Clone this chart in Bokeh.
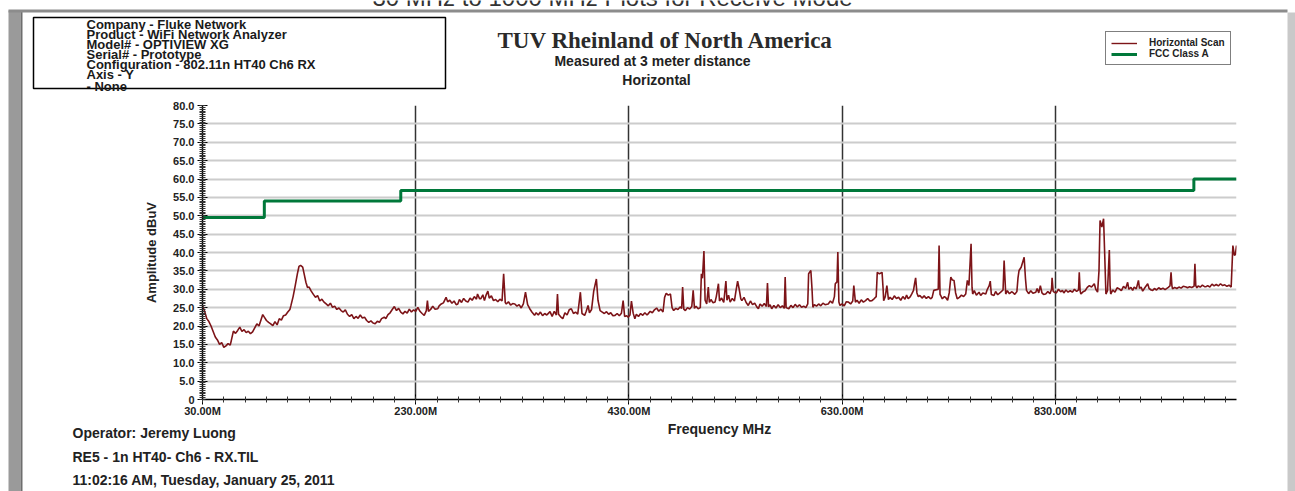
from bokeh.plotting import figure
from bokeh.models import (FixedTicker, PrintfTickFormatter, Legend, LegendItem,
                          Range1d, GridBox, Column)
from bokeh.core.properties import value
from bokeh.embed import file_html
from bokeh.resources import INLINE

# ---------------- data ----------------
scan_freq = [30, 32, 34, 36, 38, 40, 42, 44, 46, 48, 50, 52, 54, 56, 57, 59, 61, 63, 65, 67, 69, 71, 73, 75, 77, 79,
             81, 83, 85, 86.5, 88, 90, 92, 94, 96, 98, 100, 102, 104, 106, 108, 110, 112, 113, 115, 117, 119, 120.5,
             122, 124, 125.5, 127, 128.5, 130, 132, 134, 136, 138, 140, 142, 144, 146, 148, 150, 152, 154, 156, 158,
             160, 162, 164, 166, 168, 170, 172, 174, 176, 178, 180, 182, 184, 186, 188, 190, 192, 194, 196, 198,
             200.5, 202, 204, 206, 208, 210, 212, 214, 216, 218, 220, 222, 224, 226, 228, 230, 232, 234, 236, 238,
             240, 241, 242, 244, 246, 248, 250.7, 252, 254, 256, 258.5, 260, 262, 264, 266, 268, 269.5, 271, 273,
             275, 277, 279, 281, 283, 285, 287, 288, 290, 291, 293, 294.5, 296, 297.7, 299, 301, 303, 305, 307, 309,
             311, 312.5, 314, 315, 317, 319, 321, 323, 325, 327, 329, 331, 333, 335, 337, 339, 341.5, 343, 345, 347,
             349, 351, 353, 354, 356, 358, 360, 362, 363, 364, 366, 368, 370, 372, 374, 376, 378, 380, 382, 384.5,
             386, 388.5, 390, 391.7, 393, 395, 397, 399.5, 401, 403, 405, 407, 409, 411, 413, 415, 417, 419, 421,
             423, 424.6, 426, 428, 429.3, 431, 432.4, 434, 435.6, 437, 439, 441, 443, 445, 447, 448, 450, 452, 454,
             456, 458, 460, 462, 463.5, 465, 467, 469, 470.5, 472, 474, 476, 478, 479.5, 480.4, 481.5, 483, 485,
             487, 489, 490.3, 491.5, 493, 495, 497, 498, 499, 500.4, 501.5, 503, 504.5, 505.5, 507, 509, 510.8, 512,
             514, 515, 517, 519, 521, 522, 523.5, 525, 527, 529, 530.5, 532, 533.5, 535, 536, 538, 540, 542, 544,
             546, 548, 550, 551.5, 553, 555, 557, 559, 560, 561, 562.5, 564, 566, 568, 570, 572, 574, 575.8, 576.6,
             577.5, 580, 582, 584, 586, 588, 590, 592, 594, 596, 597.8, 598.6, 600.7, 601.8, 602.6, 604, 606, 608,
             610, 612, 614, 617, 619, 621, 622.8, 623.6, 625.2, 626, 627, 628, 630, 632, 634, 636, 638, 640, 641,
             642.5, 644, 646, 648, 650, 652, 654, 656, 658, 660, 662, 663, 665, 667.5, 668.5, 669, 670.5, 672,
             673.5, 675, 677, 679, 681, 683, 685, 687, 689, 690.5, 692, 694, 695.5, 697, 698, 699, 700.2, 701.5,
             703, 705, 707, 709, 711, 713, 714.5, 716, 720.2, 721, 721.9, 722.5, 724, 726, 727, 729, 730.5, 732,
             733.5, 735, 736.5, 738, 740, 742, 744, 746, 747.5, 749, 751, 751.9, 752.5, 754, 756, 758.5, 760, 762,
             764.8, 766, 768, 769, 770, 772.5, 774, 776, 778.8, 781, 782, 783.5, 785, 787, 789, 790, 792, 794, 795,
             796, 798, 800.8, 802, 803, 805, 807, 809, 811.7, 813, 814.5, 816, 817.5, 819, 821, 823, 825, 826.5,
             827, 828, 829, 831, 833, 835, 836.7, 838, 840, 842, 844, 846, 848, 850, 851.8, 852.5, 853.3, 854, 856,
             858, 860, 862, 864, 866.6, 868, 869.7, 871, 872, 873.7, 875.3, 876.3, 877.5, 879, 880.7, 881.4, 882,
             884, 886, 888, 890, 892, 894, 896, 897.9, 899, 901, 902.6, 904, 906, 908, 909, 910.5, 912, 914, 916.7,
             918, 920, 921.4, 923, 925, 927, 929, 931, 933, 934, 936, 937.6, 938.6, 939.4, 940, 942, 944, 946, 948,
             950, 952.7, 954, 956, 958, 960.2, 961, 961.8, 962.8, 964, 966, 968, 970, 971.5, 973, 975, 977, 979,
             981, 983, 985, 987, 989, 991, 993, 995, 996.6, 998, 999, 1000]
scan_dbuv = [25.6, 24.0, 22.0, 21.2, 20.0, 18.5, 17.0, 16.2, 15.0, 15.5, 14.2, 14.6, 15.2, 14.8, 16.0, 18.6, 18.0, 18.8,
             19.7, 18.5, 19.0, 18.2, 18.6, 17.9, 18.4, 19.5, 20.6, 20.0, 21.8, 23.1, 22.4, 21.5, 21.0, 20.6, 20.1,
             21.2, 20.3, 22.0, 21.6, 22.8, 23.0, 23.8, 24.5, 25.6, 28.0, 31.0, 34.2, 36.2, 36.5, 36.0, 34.0, 31.9,
             30.5, 30.6, 29.5, 28.6, 27.8, 28.3, 26.8, 27.3, 26.5, 26.0, 25.5, 26.2, 25.1, 25.4, 24.5, 24.9, 24.2,
             23.8, 24.4, 23.2, 22.6, 23.1, 22.0, 22.6, 22.1, 23.0, 22.2, 22.4, 21.5, 21.0, 21.4, 20.8, 20.6, 21.3,
             21.0, 22.0, 22.4, 22.0, 23.1, 23.6, 24.5, 25.3, 24.2, 24.8, 23.8, 23.3, 24.0, 23.5, 24.6, 23.8, 24.4,
             24.0, 25.1, 24.0, 23.4, 22.9, 24.2, 26.9, 24.0, 24.5, 25.4, 24.6, 24.7, 25.5, 26.0, 26.3, 27.8, 26.6,
             27.0, 26.2, 26.8, 25.8, 26.0, 27.2, 26.4, 27.5, 26.8, 26.5, 27.6, 27.0, 28.0, 27.3, 28.7, 27.4, 27.4,
             28.5, 26.9, 28.4, 29.5, 27.6, 28.2, 26.9, 27.2, 26.6, 27.3, 26.8, 34.2, 26.4, 26.0, 26.6, 25.7, 26.1,
             26.0, 25.4, 25.8, 24.9, 26.0, 29.2, 25.8, 24.7, 23.8, 22.9, 23.6, 23.0, 23.8, 22.8, 23.4, 23.0, 23.3,
             23.9, 22.6, 24.0, 23.0, 28.7, 23.2, 22.5, 22.0, 23.6, 23.0, 24.4, 24.7, 23.4, 23.8, 23.2, 29.2, 23.4,
             22.9, 24.0, 25.6, 23.6, 24.5, 29.5, 32.8, 27.0, 24.2, 23.8, 23.4, 23.9, 23.2, 23.6, 22.8, 22.9, 23.4,
             22.8, 23.5, 26.9, 22.6, 22.8, 22.4, 23.0, 26.8, 23.5, 22.0, 23.2, 22.6, 23.4, 22.9, 23.6, 23.0, 23.3,
             24.0, 23.6, 24.4, 24.9, 24.0, 24.6, 23.8, 27.8, 28.9, 28.4, 28.7, 25.0, 24.2, 24.8, 24.5, 25.2, 24.8,
             30.6, 24.6, 24.2, 25.0, 24.6, 25.3, 29.7, 24.8, 25.4, 24.7, 25.0, 34.2, 33.0, 40.4, 27.0, 26.0, 30.6,
             26.4, 27.2, 26.3, 26.5, 28.0, 31.5, 26.8, 27.6, 26.4, 32.2, 27.0, 28.4, 26.5, 27.5, 26.8, 29.6, 32.2,
             30.0, 27.4, 26.9, 27.8, 26.4, 25.6, 26.8, 25.8, 26.2, 25.2, 24.7, 26.0, 25.4, 26.1, 25.3, 31.7, 25.2,
             25.8, 24.7, 25.6, 24.9, 25.8, 25.0, 25.5, 24.8, 33.3, 25.0, 24.7, 25.6, 25.0, 25.9, 25.2, 25.8, 25.1,
             25.4, 25.0, 26.0, 34.2, 35.1, 30.0, 25.1, 25.8, 25.4, 26.0, 25.5, 26.2, 25.8, 26.0, 26.8, 26.2, 28.0,
             31.5, 32.0, 40.1, 26.5, 25.6, 26.0, 25.5, 26.6, 26.5, 26.0, 26.8, 31.0, 26.5, 27.0, 26.2, 27.1, 26.5,
             26.9, 27.5, 26.8, 26.9, 27.4, 28.0, 34.6, 34.2, 34.6, 30.0, 26.9, 28.0, 31.0, 27.2, 27.8, 27.2, 28.2,
             27.5, 27.8, 27.0, 28.0, 27.3, 28.4, 27.4, 28.0, 28.8, 29.7, 31.5, 33.1, 29.0, 28.0, 28.3, 27.6, 28.2,
             27.5, 28.0, 27.4, 27.8, 29.7, 30.0, 41.9, 28.6, 28.3, 27.4, 28.0, 27.8, 27.0, 29.0, 33.3, 32.5, 32.4,
             29.0, 27.4, 27.8, 28.4, 28.0, 28.7, 32.4, 31.0, 42.4, 30.5, 28.7, 29.6, 28.4, 29.2, 28.3, 29.0, 28.7,
             29.8, 31.0, 32.2, 28.6, 28.3, 29.4, 28.5, 29.2, 29.8, 37.8, 28.7, 29.6, 28.8, 29.3, 29.2, 28.6, 29.4,
             33.0, 35.1, 36.0, 38.7, 33.0, 29.7, 28.8, 29.6, 28.9, 29.2, 30.2, 29.0, 31.0, 29.0, 28.6, 28.7, 29.4,
             28.8, 30.0, 33.1, 29.5, 29.2, 29.0, 30.0, 29.3, 29.7, 29.0, 29.8, 29.2, 29.6, 29.2, 30.0, 29.4, 29.8,
             34.6, 29.6, 28.7, 29.3, 29.6, 30.5, 31.0, 30.6, 31.5, 30.0, 29.2, 35.0, 48.7, 46.9, 49.2, 40.0, 28.7,
             29.6, 40.7, 31.0, 28.7, 29.8, 29.2, 30.4, 30.1, 29.6, 30.8, 30.2, 31.9, 30.0, 30.5, 29.7, 30.6, 30.1,
             32.4, 30.2, 30.6, 29.5, 30.4, 31.5, 30.2, 29.8, 29.7, 30.2, 29.8, 30.4, 30.0, 30.3, 29.9, 30.1, 30.5,
             30.9, 34.6, 31.0, 30.1, 30.5, 30.2, 30.6, 30.3, 30.8, 30.6, 30.4, 30.7, 30.5, 30.8, 36.9, 31.0, 30.4,
             30.9, 30.6, 31.1, 30.7, 30.7, 31.0, 30.6, 31.4, 30.9, 31.3, 30.9, 31.5, 31.0, 31.2, 30.8, 31.1, 30.6,
             41.9, 39.2, 39.5, 41.9]

limit_freq = [30, 88, 88, 216, 216, 960, 960, 1000]
limit_dbuv = [49.5, 49.5, 54.0, 54.0, 56.9, 56.9, 60.0, 60.0]

x_major = [30, 230, 430, 630, 830]
y_major = [0, 5, 10, 15, 20, 25, 30, 35, 40, 45, 50, 55, 60, 65, 70, 75, 80]

page_title = "30 MHz to 1000 MHz Plots for Receive Mode"
header_lines = ["Company - Fluke Network", "Product - WiFi Network Analyzer", "Model# - OPTIVIEW XG",
                "Serial# - Prototype", "Configuration - 802.11n HT40  Ch6 RX", "Axis - Y", " - None"]
titles = ["TUV Rheinland of North America", "Measured at 3 meter distance", "Horizontal"]
footer_lines = ["Operator: Jeremy Luong", "RE5 - 1n HT40- Ch6 - RX.TIL",
                "11:02:16 AM, Tuesday, January 25, 2011"]
series_names = ["Horizontal Scan", "FCC Class A"]

W, H = 1295, 491
FONT = "Liberation Sans"
RED = "#7d1418"
GREEN = "#00783a"

# ---------------- chart layer (bottom) ----------------
p = figure(width=W, height=H, x_range=Range1d(30, 1000), y_range=Range1d(0, 80),
           output_backend="svg", toolbar_location=None,
           min_border_left=202, min_border_right=59, min_border_top=105, min_border_bottom=92)
p.outline_line_color = None
p.background_fill_color = "white"
p.border_fill_color = "white"

p.line(scan_freq, scan_dbuv, line_color=RED, line_width=1.6)
p.line(limit_freq, limit_dbuv, line_color=GREEN, line_width=3)

p.xaxis.ticker = FixedTicker(ticks=x_major, minor_ticks=list(range(30, 1001, 20)))
p.yaxis.ticker = FixedTicker(ticks=y_major, minor_ticks=[i * 0.5 for i in range(0, 161)])
p.xaxis.formatter = PrintfTickFormatter(format="%.2fM")
p.yaxis.formatter = PrintfTickFormatter(format="%.1f")
p.yaxis.major_label_overrides = {0: "0"}
for ax in (p.xaxis[0], p.yaxis[0]):
    ax.axis_line_color = "black"
    ax.axis_line_width = 1.5
    ax.major_tick_line_color = "black"
    ax.minor_tick_line_color = "#333333"
    ax.major_tick_in = 5
    ax.major_tick_out = 5
    ax.minor_tick_in = 3
    ax.minor_tick_out = 3
    ax.major_label_text_font = FONT
    ax.major_label_text_font_style = "bold"
    ax.major_label_text_font_size = "11px"
    ax.major_label_text_color = "#222222"
    ax.axis_label_text_font = FONT
    ax.axis_label_text_font_style = "bold"
    ax.axis_label_text_color = "#222222"
p.yaxis.major_label_standoff = 3
p.xaxis.major_label_standoff = 0
p.xaxis.axis_label = "Frequency MHz"
p.yaxis.axis_label = "Amplitude dBuV"
p.xaxis.axis_label_text_font_size = "14px"
p.yaxis.axis_label_text_font_size = "13px"
p.xaxis.axis_label_standoff = 1
p.yaxis.axis_label_standoff = 11

p.xgrid.ticker = FixedTicker(ticks=x_major[1:])
p.xgrid.grid_line_color = "#333333"
p.xgrid.grid_line_width = 1.5
p.ygrid.ticker = FixedTicker(ticks=y_major[1:])
p.ygrid.grid_line_color = "#cccccc"
p.ygrid.grid_line_width = 2

# ---------------- page layer (top, transparent): frame, texts, legend ----------------
d = figure(width=W, height=H, x_range=Range1d(0, W), y_range=Range1d(H, 0),
           x_axis_type=None, y_axis_type=None, output_backend="svg", toolbar_location=None,
           min_border=0, min_border_left=0, min_border_right=0, min_border_top=0, min_border_bottom=0)
d.outline_line_color = None
d.background_fill_color = None
d.border_fill_color = None

d.quad(left=[8, 20, 8, 1287], right=[20, 22, 1287, 1295], top=[10, 10, 9, 12], bottom=[491, 491, 12, 491],
       fill_color=["#9a9a9a", "#6e6e6e", "#8c8c8c", "#c9c9c9"], line_color=None)

# page title, cut by the top edge as in the page it comes from
d.text(x=[612], y=[-3], text=[page_title], text_font=value(FONT), text_font_size="24px",
       text_color="#333333", text_align="center", text_baseline="alphabetic")

d.quad(left=[33], right=[445], top=[17], bottom=[88], fill_color=None, line_color="black", line_width=1.5)
d.text(x=[86] * 7, y=[24, 33.5, 43.5, 53.5, 63.5, 73.5, 86], text=header_lines,
       text_font=value(FONT), text_font_style="bold", text_font_size="13px",
       text_color="#1a1a1a", text_baseline="middle")

d.text(x=[665], y=[40], text=[titles[0]], text_font=value("Liberation Serif"), text_font_style="bold",
       text_font_size="23px", text_color="#2a2a2a", text_align="center", text_baseline="middle")
d.text(x=[652, 656], y=[60, 79], text=titles[1:], text_font=value(FONT), text_font_style="bold",
       text_font_size="14px", text_color="#222222", text_align="center", text_baseline="middle")

d.text(x=[72] * 3, y=[432, 456, 479], text=footer_lines, text_font=value(FONT), text_font_style="bold",
       text_font_size="14px", text_color="#222222", text_baseline="middle")

# legend proxies: same styles as the chart's series, kept outside the visible page
lg1 = d.line(x=[-60, -50], y=[-60, -60], line_color=RED, line_width=1.4)
lg2 = d.line(x=[-60, -50], y=[-70, -70], line_color=GREEN, line_width=3)
legend = Legend(items=[LegendItem(label=series_names[0], renderers=[lg1]),
                       LegendItem(label=series_names[1], renderers=[lg2])],
                location=(1105, H - 65), orientation="vertical")
legend.border_line_color = "black"
legend.border_line_width = 1
legend.label_text_font = FONT
legend.label_text_font_style = "bold"
legend.label_text_font_size = "10px"
legend.label_text_color = "#222222"
legend.padding = 5
legend.spacing = 0
legend.margin = 0
legend.glyph_width = 26
legend.glyph_height = 10
legend.label_height = 10
legend.label_standoff = 12
d.add_layout(legend)

# the page layer is wrapped so that its frame is not aligned to the chart's frame
page = GridBox(children=[(p, 0, 0), (Column(children=[d]), 0, 0)])

open("out.html", "w").write(file_html(page, INLINE))
